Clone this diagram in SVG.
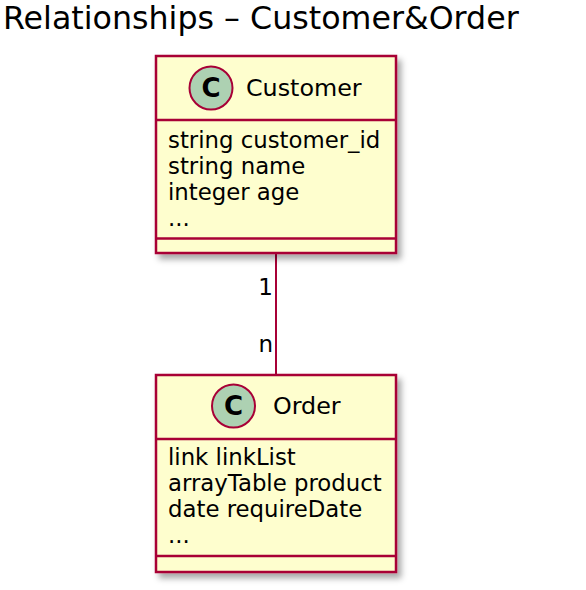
<svg xmlns="http://www.w3.org/2000/svg" width="586" height="590" viewBox="0 0 586 590">
<style>
text{font-family:"DejaVu Sans","Liberation Sans",sans-serif;fill:#000}
.box{fill:#FEFECE;stroke:#A80036;stroke-width:2.5}
.sep{stroke:#A80036;stroke-width:2.5}
.circ{fill:#ADD1B2;stroke:#A80036;stroke-width:2}
.cl{font-size:26px;font-weight:bold;text-anchor:middle}
.name{font-size:23.8px}
.mem{font-size:22.8px}
.lbl{font-size:23px}
.edge{stroke:#A80036;stroke-width:2;fill:none}
</style>
<defs>
<filter id="sh" x="-10%" y="-10%" width="130%" height="130%">
<feDropShadow dx="4" dy="5" stdDeviation="3" flood-color="#000" flood-opacity="0.35"/>
</filter>
</defs>
<text x="3" y="29" font-size="31.7">Relationships – Customer&amp;Order</text>
<g id="connectors">
<line class="edge" x1="276" y1="253" x2="276" y2="375"/>
<text class="lbl" x="273" y="295" text-anchor="end">1</text>
<text class="lbl" x="273" y="352" text-anchor="end">n</text>
</g>
<g id="Customer">
<rect class="box" x="156" y="56" width="240" height="197" filter="url(#sh)"/>
<line class="sep" x1="156" y1="120" x2="396" y2="120"/>
<line class="sep" x1="156" y1="238.5" x2="396" y2="238.5"/>
<circle class="circ" cx="211" cy="88" r="21.5"/>
<text class="cl" x="211" y="97">C</text>
<text class="name" x="246" y="96">Customer</text>
<text class="mem" x="168" y="148">string customer_id</text>
<text class="mem" x="168" y="174">string name</text>
<text class="mem" x="168" y="200">integer age</text>
<text class="mem" x="168" y="226">...</text>
</g>
<g id="Order">
<rect class="box" x="156" y="375" width="240" height="197" filter="url(#sh)"/>
<line class="sep" x1="156" y1="439" x2="396" y2="439"/>
<line class="sep" x1="156" y1="556" x2="396" y2="556"/>
<circle class="circ" cx="233.5" cy="406" r="21.5"/>
<text class="cl" x="233.5" y="415">C</text>
<text class="name" x="273" y="414">Order</text>
<text class="mem" x="168" y="465">link linkList</text>
<text class="mem" x="168" y="491">arrayTable product</text>
<text class="mem" x="168" y="517">date requireDate</text>
<text class="mem" x="168" y="543">...</text>
</g>
</svg>
